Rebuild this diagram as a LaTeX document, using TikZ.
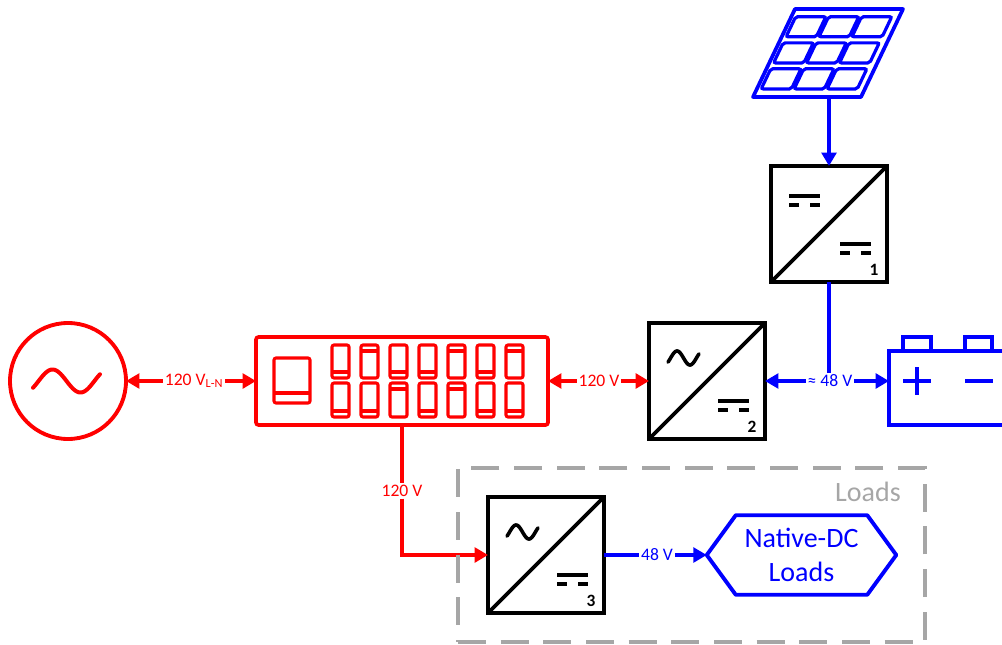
\documentclass[tikz,border=0pt]{standalone}
\usepackage{fontspec}
\setmainfont{Carlito}
\usetikzlibrary{arrows.meta,calc}
\definecolor{myred}{RGB}{255,0,0}
\definecolor{myblue}{RGB}{0,0,255}
\definecolor{mygray}{RGB}{166,166,166}
\begin{document}
\begin{tikzpicture}[x=0.75pt,y=-0.75pt,
  conv/.style={draw=black,line width=2.9pt,minimum size=87pt,inner sep=0pt,outer sep=0pt},
  wire/.style={line width=2.6pt},
  arr/.style={wire,-{Triangle[length=10pt,width=11pt]}},
  lbl/.style={inner sep=1.2pt,font=\fontsize{13.2}{15}\selectfont},
  num/.style={font=\fontsize{13}{15}\selectfont\bfseries,inner sep=0pt},
  dcsym/.style={line width=2.7pt},
  brk/.style={line width=2.3pt,rounded corners=1.5pt},
  bigtxt/.style={font=\fontsize{21}{25.5}\selectfont}
  ]
\useasboundingbox (0,0) rectangle (1002,645);
\clip (0,0) rectangle (1002,645);

% AC source
\node[circle,draw=myred,line width=2.9pt,minimum size=87pt,inner sep=0pt,outer sep=0pt] (src) at (68,381) {};
\draw[myred,line width=3pt,line cap=round] plot[domain=-0.2:2.2,samples=50,smooth] ({33+(\x+0.2)*67/2.4},{381-11.5*sin(\x*180)});

% panel
\node[draw=myred,line width=2.8pt,rounded corners=2pt,minimum width=219pt,minimum height=66pt,inner sep=0pt,outer sep=0pt] (panel) at (402,381) {};
\draw[myred,brk] (274,358) rectangle (310,403);
\draw[myred,line width=2.3pt] (274,393) -- (310,393);
\foreach \i/\ya/\yb in {0/372/411,1/351/411,2/372/389,3/372/411,4/351/389,5/372/411,6/351/411}{
  \draw[myred,brk] ({332+29*\i},345) rectangle ({349+29*\i},378);
  \draw[myred,brk] ({332+29*\i},383) rectangle ({349+29*\i},417);
  \draw[myred,line width=2.3pt] ({332+29*\i},\ya) -- ({349+29*\i},\ya);
  \draw[myred,line width=2.3pt] ({332+29*\i},\yb) -- ({349+29*\i},\yb);
}

% converters
\node[conv] (c1) at (829,224) {};
\node[conv] (c2) at (707,381) {};
\node[conv] (c3) at (546,555) {};
\foreach \c/\n in {c1/1,c2/2,c3/3}{
  \draw[line width=2.9pt] (\c.south west) -- (\c.north east);
  \draw[dcsym] ([shift={(69,78)}]\c.north west) -- ++(31,0);
  \draw[dcsym] ([shift={(69,87)}]\c.north west) -- ++(10,0);
  \draw[dcsym] ([shift={(90,87)}]\c.north west) -- ++(10,0);
  \node[num] (n\n) at ([shift={(103,104)}]\c.north west) {\n};
}
\draw[dcsym] ([shift={(18,30)}]c1.north west) -- ++(31,0);
\draw[dcsym] ([shift={(18,39)}]c1.north west) -- ++(10,0);
\draw[dcsym] ([shift={(39,39)}]c1.north west) -- ++(10,0);
\foreach \c in {c2,c3}{
  \begin{scope}[shift={(\c.north west)}]
    \draw[line width=2.7pt,line cap=round] plot[domain=-0.2:2.2,samples=40,smooth] ({19+(\x+0.2)*31/2.4},{35-7*sin(\x*180)});
  \end{scope}
}

% solar panel
\draw[myblue,line width=2.8pt,line join=round] (795,9) -- (903,9) -- (861,97) -- (753,97) -- cycle;
\foreach \u in {0.04,0.345,0.65}{
  \foreach \v in {0.088,0.385,0.68}{
    \draw[myblue,line width=2.4pt,rounded corners=1.5pt]
      ({795+108*\u-42*\v},{9+88*\v}) -- ({795+108*(\u+0.28)-42*\v},{9+88*\v})
      -- ({795+108*(\u+0.28)-42*(\v+0.228)},{9+88*(\v+0.228)})
      -- ({795+108*\u-42*(\v+0.228)},{9+88*(\v+0.228)}) -- cycle;
  }
}
\coordinate (pvb) at (829,97);
\draw[arr,myblue] (pvb) -- (c1.north);

% battery
\node[draw=myblue,line width=2.9pt,minimum width=90.75pt,minimum height=55.5pt,inner sep=0pt,outer sep=0pt] (bat) at (949.5,388) {};
\draw[myblue,line width=2.8pt] (903,351) -- (903,337) -- (931,337) -- (931,351);
\draw[myblue,line width=2.8pt] (965,351) -- (965,337) -- (992,337) -- (992,351);
\draw[myblue,line width=3pt] (903,381) -- (931,381) (917,367) -- (917,395);
\draw[myblue,line width=3pt] (965,381) -- (993,381);

% labels and connectors
\node[lbl,text=myred] (l1) at (194,381) {120 V\textsubscript{L-N}};
\draw[arr,myred] (l1.west) -- (src.east);
\draw[arr,myred] (l1.east) -- (panel.west);
\node[lbl,text=myred] (l2) at (599,381) {120 V};
\draw[arr,myred] (l2.west) -- (panel.east);
\draw[arr,myred] (l2.east) -- (c2.west);
\node[lbl,text=myblue] (l3) at (830,381) {≈ 48 V};
\draw[wire,myblue] (c1.south) -- (c1.south |- l3.north);
\draw[arr,myblue] (l3.west) -- (c2.east);
\draw[arr,myblue] (l3.east) -- (l3.east -| bat.west);
\node[lbl,text=myred] (l4) at (402,491) {120 V};
\draw[wire,myred] (panel.south) -- (l4.north);
\draw[arr,myred] (l4.south) |- (c3.west);

% loads group
\node[draw=mygray,line width=2.5pt,dash pattern=on 21pt off 11pt,minimum width=350.25pt,minimum height=130.5pt,inner sep=0pt] (lbox) at (691.5,555) {};
\node[bigtxt,text=mygray,inner sep=0pt] (ltitle) at (868,492) {Loads};
\node[bigtxt,text=myblue,align=center,minimum width=141.75pt,minimum height=59.25pt,inner sep=0pt] (dcl) at (801.5,555) {Native-DC\\Loads};
\draw[myblue,line width=2.9pt,line join=round] (dcl.west) -- ([shift={(29,0)}]dcl.north west) -- ([shift={(-29,0)}]dcl.north east) -- (dcl.east) -- ([shift={(-29,0)}]dcl.south east) -- ([shift={(29,0)}]dcl.south west) -- cycle;
\node[lbl,text=myblue] (l5) at (657,555) {48 V};
\draw[wire,myblue] (c3.east) -- (l5.west);
\draw[arr,myblue] (l5.east) -- (dcl.west);
\end{tikzpicture}
\end{document}
